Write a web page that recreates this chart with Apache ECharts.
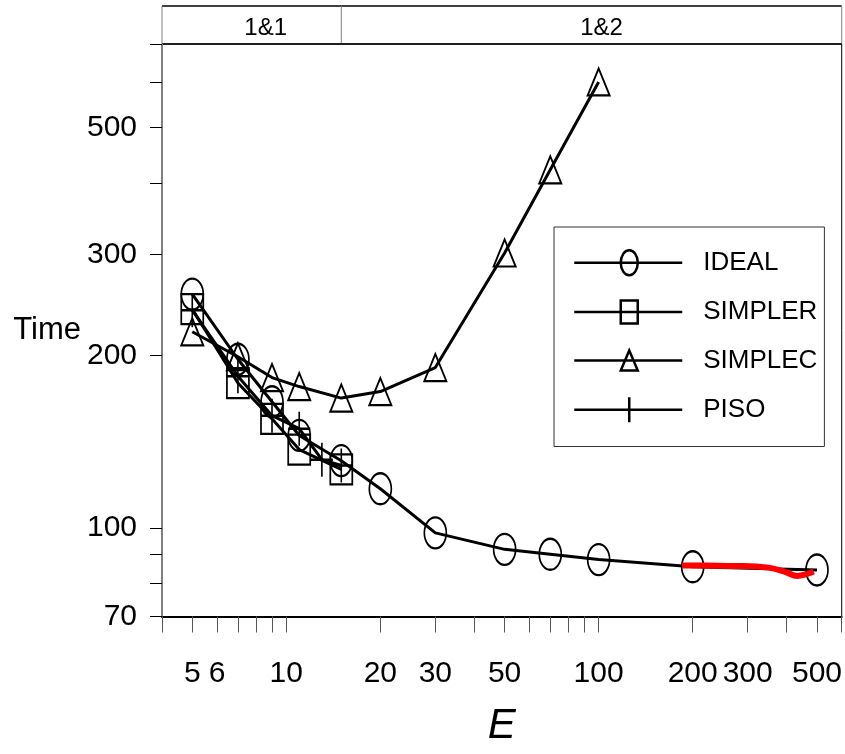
<!DOCTYPE html>
<html>
<head>
<meta charset="utf-8">
<script src="https://cdn.jsdelivr.net/npm/echarts@6/dist/echarts.min.js"></script>
<style>
html,body{margin:0;padding:0;background:#fff;}
#chart{width:845px;height:754px;}
</style>
</head>
<body>
<div id="chart"></div>
<script>
// ---- data ----
var idealE   = [5, 7, 9, 11, 15, 20, 30, 50, 70, 100, 200, 500];
var idealT   = [256, 197, 166, 145, 131, 117, 98, 91.7, 89.9, 88.0, 85.5, 84.4];
var simplerE = [5, 7, 9, 11, 15];
var simplerT = [241, 179, 155, 137, 126.5];
var simplecE = [5, 7, 9, 11, 15, 20, 30, 50, 70, 100];
var simplecT = [220, 199, 183, 176.5, 168.5, 173, 190.5, 302, 422, 601];
var pisoE    = [5, 7, 9, 11, 13, 15];
var pisoT    = [240, 184, 157, 149, 131.5, 128.5];
var redE     = [185, 220, 260, 290, 350, 397, 432, 460, 488];
var redT     = [85.9, 85.9, 85.8, 85.8, 85.2, 83.7, 82.4, 82.9, 83.9];
var xTicks   = [4, 5, 6, 7, 8, 9, 10, 20, 30, 40, 50, 60, 70, 80, 90, 100, 200, 300, 400, 500, 600];
var xLabels  = [5, 6, 10, 20, 30, 50, 100, 200, 300, 500];
var yTicks   = [70, 80, 90, 100, 200, 300, 400, 500, 600, 700];
var yLabels  = [70, 100, 200, 300, 500];
var stripLabels = ['1&1', '1&2'];
var stripSplit = 15;

function pairs(xs, ys) { return xs.map(function (x, i) { return [x, ys[i]]; }); }

var FONT = "'Liberation Sans', Arial, Helvetica, sans-serif";
var chart = echarts.init(document.getElementById('chart'), null, {renderer: 'canvas'});

var hollow = {color: 'rgba(0,0,0,0)', borderColor: '#000', borderWidth: 2};
var lineSt = {color: '#000', width: 3};
var plusPath = 'path://M1 0 L1 2 M0 1 L2 1';

var iconIdeal   = 'path://M0 12.5 L108 12.5 M63.5 12.5 A8.5 12.5 0 1 1 46.5 12.5 A8.5 12.5 0 1 1 63.5 12.5 Z';
var iconSimpler = 'path://M0 12.5 L108 12.5 M46.5 1 L63.5 1 L63.5 24 L46.5 24 Z';
var iconSimplec = 'path://M0 12.5 L108 12.5 M55 2.5 L63.5 22.5 L46.5 22.5 Z';
var iconPiso    = 'path://M0 12.5 L108 12.5 M55 0 L55 25';

var option = {
  animation: false,
  backgroundColor: '#fff',
  grid: {left: 162, right: 3, top: 44, bottom: 137.5, show: true, borderColor: '#000', borderWidth: 1, containLabel: false},
  xAxis: {
    type: 'log', logBase: 10, min: 4, max: 600,
    axisLine: {show: true, onZero: false, lineStyle: {color: '#000', width: 2}},
    axisTick: {show: true, length: 16, customValues: xTicks, lineStyle: {color: '#555', width: 1}},
    axisLabel: {customValues: xLabels, fontSize: 30, fontFamily: FONT, color: '#000', margin: 42},
    splitLine: {show: false}, minorTick: {show: false},
    name: 'E', nameLocation: 'middle', nameGap: 89,
    nameTextStyle: {fontSize: 42, fontStyle: 'italic', fontFamily: FONT, color: '#000'}
  },
  yAxis: {
    type: 'log', logBase: 10, min: 70, max: 700,
    axisLine: {show: true, lineStyle: {color: '#808080', width: 1}},
    axisTick: {show: true, length: 12, customValues: yTicks, lineStyle: {color: '#000', width: 1}},
    axisLabel: {customValues: yLabels, fontSize: 30, fontFamily: FONT, color: '#000', margin: 25},
    splitLine: {show: false},
    name: 'Time', nameLocation: 'middle', nameRotate: 0, nameGap: 80,
    nameTextStyle: {fontSize: 31, fontFamily: FONT, color: '#000'}
  },
  legend: {
    orient: 'vertical', left: 554, top: 227,
    padding: [22, 7, 23, 19],
    itemWidth: 108, itemHeight: 25, itemGap: 22.5,
    borderColor: '#333', borderWidth: 1, backgroundColor: '#fff',
    selectedMode: false,
    itemStyle: {color: 'rgba(0,0,0,0)', borderColor: '#000', borderWidth: 2.5},
    textStyle: {fontSize: 26, fontFamily: FONT, color: '#000', padding: [0, 0, 0, 16], lineHeight: 25},
    data: [
      {name: 'IDEAL', icon: iconIdeal},
      {name: 'SIMPLER', icon: iconSimpler},
      {name: 'SIMPLEC', icon: iconSimplec},
      {name: 'PISO', icon: iconPiso}
    ]
  },
  series: [
    {name: 'SIMPLEC', type: 'line', data: pairs(simplecE, simplecT), symbol: 'triangle', symbolSize: [22, 27],
     showAllSymbol: true, lineStyle: lineSt, itemStyle: hollow},
    {name: 'SIMPLER', type: 'line', data: pairs(simplerE, simplerT), symbol: 'rect', symbolSize: [22, 30],
     showAllSymbol: true, lineStyle: lineSt, itemStyle: hollow},
    {name: 'PISO', type: 'line', data: pairs(pisoE, pisoT), symbol: plusPath, symbolSize: [22, 34],
     showAllSymbol: true, lineStyle: lineSt, itemStyle: hollow},
    {name: 'IDEAL', type: 'line', data: pairs(idealE, idealT), symbol: 'circle', symbolSize: [22, 31],
     showAllSymbol: true, lineStyle: lineSt, itemStyle: hollow},
    {name: 'red', type: 'line', data: pairs(redE, redT), symbol: 'none', smooth: 0.4,
     lineStyle: {color: '#ff0000', width: 6}, z: 5}
  ]
};
chart.setOption(option);

// strip above the panel
var L = chart.convertToPixel({xAxisIndex: 0}, 4);
var R = chart.convertToPixel({xAxisIndex: 0}, 600);
var S = chart.convertToPixel({xAxisIndex: 0}, stripSplit);
var topY = 6, botY = 44;
chart.setOption({
  graphic: [
    {type: 'line', shape: {x1: L, y1: topY, x2: R, y2: topY}, style: {stroke: '#000', lineWidth: 1.5}},
    {type: 'line', shape: {x1: L, y1: topY, x2: L, y2: botY}, style: {stroke: '#808080', lineWidth: 1}},
    {type: 'line', shape: {x1: R, y1: topY, x2: R, y2: botY}, style: {stroke: '#808080', lineWidth: 1}},
    {type: 'line', shape: {x1: S, y1: topY, x2: S, y2: botY}, style: {stroke: '#808080', lineWidth: 1}},
    {type: 'line', shape: {x1: L, y1: botY, x2: R, y2: botY}, style: {stroke: '#000', lineWidth: 1.5}},
    {type: 'text', x: (L + S) / 2 + 14, y: (topY + botY) / 2 + 3,
     style: {text: stripLabels[0], font: '24px ' + FONT, fill: '#000', align: 'center', verticalAlign: 'middle'}},
    {type: 'text', x: (S + R) / 2 + 10, y: (topY + botY) / 2 + 3,
     style: {text: stripLabels[1], font: '24px ' + FONT, fill: '#000', align: 'center', verticalAlign: 'middle'}}
  ]
});
</script>
</body>
</html>
